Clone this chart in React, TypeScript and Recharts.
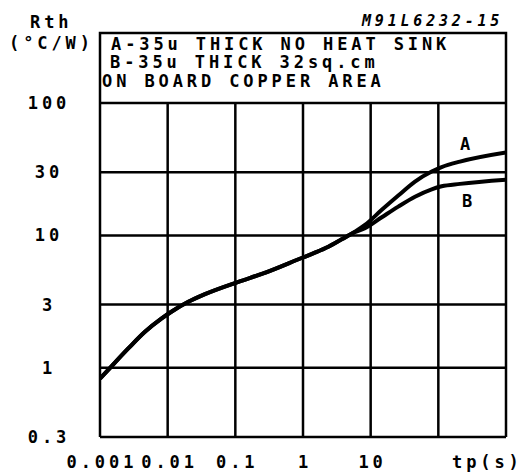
import React from 'react';
import { LineChart, Line, XAxis, YAxis, CartesianGrid } from 'recharts';

const tp = [0.001, 0.00141, 0.00262, 0.00462, 0.00816, 0.0112, 0.0202, 0.0356, 0.111, 0.259, 0.977, 1.5, 2.37, 3.73, 5.87, 8.24, 14.6, 25.6, 45.2, 79.8, 112, 209, 1000];
const rthA = [0.828, 1.0, 1.4, 1.87, 2.36, 2.64, 3.15, 3.6, 4.46, 5.16, 6.78, 7.4, 8.21, 9.34, 10.66, 11.99, 15.6, 20.0, 25.5, 30.4, 32.8, 36.1, 42.3];
const rthB = [0.828, 1.0, 1.4, 1.87, 2.36, 2.64, 3.15, 3.6, 4.46, 5.16, 6.78, 7.4, 8.21, 9.34, 10.6, 11.32, 13.7, 16.5, 19.6, 22.3, 23.5, 24.5, 26.3];

const xTicks = [0.001, 0.01, 0.1, 1, 10, 100, 1000];
const xTickLabels = ['0.001', '0.01', '0.1', '1', '10', '', ''];
const yTicks = [0.3, 1, 3, 10, 30, 100];
const yTickLabels = ['0.3', '1', '3', '10', '30', '100'];

const headerLines = ['A-35u THICK NO HEAT SINK', 'B-35u THICK 32sq.cm', 'ON BOARD COPPER AREA'];
const title = 'M91L6232-15';

const data = tp.map((t, i) => ({ tp: t, a: rthA[i], b: rthB[i] }));

const FONT = "'DejaVu Sans Mono', monospace";
const LS = 3.9;
const txt = { fontFamily: FONT, fontWeight: 700, fontSize: 17, letterSpacing: LS, fill: '#000' } as const;

const XTick = (props: any) => {
  const idx = xTicks.indexOf(props.payload.value);
  const label = idx >= 0 ? xTickLabels[idx] : '';
  if (!label) return null;
  return (
    <text x={props.x + LS / 2} y={468} textAnchor="middle" style={txt}>
      {label}
    </text>
  );
};

const YTick = (props: any) => {
  const idx = yTicks.indexOf(props.payload.value);
  const label = idx >= 0 ? yTickLabels[idx] : '';
  return (
    <text x={49} y={props.y + 6} textAnchor="middle" style={txt}>
      {label}
    </text>
  );
};

export default function App() {
  return (
    <div style={{ position: 'absolute', left: 0, top: 0, width: 522, height: 476, background: '#fff' }}>
      <LineChart width={522} height={476} data={data} margin={{ top: 103, right: 16, left: 40, bottom: 9 }}>
        <CartesianGrid stroke="#000" strokeWidth={2.5} syncWithTicks />
        <XAxis
          dataKey="tp"
          type="number"
          scale="log"
          domain={[0.001, 1000]}
          ticks={xTicks}
          allowDataOverflow
          axisLine={false}
          tickLine={false}
          height={30}
          tick={<XTick />}
          interval={0}
        />
        <YAxis
          type="number"
          scale="log"
          domain={[0.3, 100]}
          ticks={yTicks}
          allowDataOverflow
          axisLine={false}
          tickLine={false}
          width={60}
          tick={<YTick />}
          interval={0}
        />
        <Line dataKey="b" type="monotone" stroke="#000" strokeWidth={4} dot={false} isAnimationActive={false} />
        <Line dataKey="a" type="monotone" stroke="#000" strokeWidth={4} dot={false} isAnimationActive={false} />
      </LineChart>
      <svg width={522} height={476} style={{ position: 'absolute', left: 0, top: 0, pointerEvents: 'none' }}>
        <polyline points="100,103 100,33 506,33 506,103" fill="none" stroke="#000" strokeWidth={2.5} />
        <text x={30} y={28} style={txt}>Rth</text>
        <text x={9} y={49} style={txt}>(°C/W)</text>
        <text x={362} y={26} style={{ ...txt, fontSize: 15, letterSpacing: 3.8, fontStyle: 'italic' }}>{title}</text>
        <text x={111} y={50} style={txt}>{headerLines[0]}</text>
        <text x={110} y={68} style={txt}>{headerLines[1]}</text>
        <text x={102} y={87} style={txt}>{headerLines[2]}</text>
        <text x={452} y={468} style={txt}>tp(s)</text>
        <text x={460} y={150} style={txt}>A</text>
        <text x={462} y={207} style={txt}>B</text>
      </svg>
    </div>
  );
}
